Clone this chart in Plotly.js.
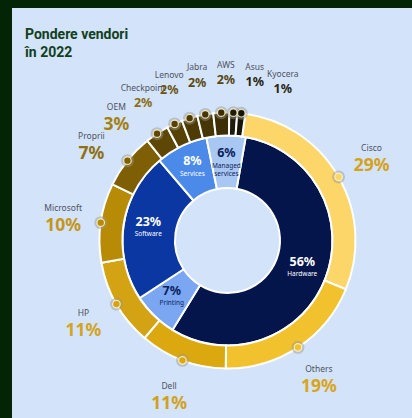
<!DOCTYPE html>
<html><head><meta charset="utf-8">
<script src="https://cdn.plot.ly/plotly-3.0.1.min.js"></script>
<style>html,body{margin:0;padding:0;background:#032506;overflow:hidden}</style>
</head><body><div id="chart" style="width:412px;height:418px"></div>
<script>
// ---- data ----
const titleText = 'Pondere vendori<br>în 2022';
const categories = ['Hardware','Printing','Software','Services','Managed services'];
const categoryValues = [56,7,23,8,6];
const vendors = ['Cisco','Others','Dell','HP','Microsoft','Proprii','OEM','Checkpoint','Lenovo','Jabra','AWS','Asus','Kyocera'];
const vendorValues = [29,19,11,11,10,7,3,2,2,2,2,1,1];

// ---- styles ----
const categoryColors = ['#03154b','#7aa6f2','#0b37a2','#4b8ae9','#a9c7f3'];
const categoryTextColors = ['#ffffff','#0a1f5c','#ffffff','#ffffff','#0a1f5c'];
const vendorColors = ['#fcd668','#f2c22e','#dba90f','#d3a313','#b88b07','#7e5f06','#5e4605','#574205','#4d3a05','#463505','#3d2e06','#1f1a0b','#171309'];
const vendorLabelColors = ['#d4a21a','#d8a51b','#d2a11a','#d4a41c','#c4961a','#8f7012','#a3810f','#8a6d12','#6a5412','#5a4810','#564510','#2a2410','#2a2410'];

const W = 412, H = 418;
const cx = 227.5, cy = 240.5;          // chart centre in px
const RP = 172;                         // polar radius in px (radial units = px)
const rHole = 52.5, rMid = 105, rOuter = 128, labelR = 166, innerLabelR = 80;
const outerRot = 8, innerRot = 10;
const bigLabel = 3, bigGap = 13, smallGap = 10;   // angular room for each label (deg)

function arcs(values, rot) {
  const tot = values.reduce((a, b) => a + b, 0);
  let cum = 0;
  return values.map(v => { const s = cum; cum += v; return {mid: rot + (s + v / 2) / tot * 360, width: v / tot * 360}; });
}
// spread label angles so neighbouring labels keep (w_i + w_j)/2 degrees apart
function spread(angles, widths) {
  const place = idx => {
    const off = [0];
    for (let k = 1; k < idx.length; k++) off.push(off[k - 1] + (widths[idx[k - 1]] + widths[idx[k]]) / 2);
    const start = idx.reduce((s, i, k) => s + angles[i] - off[k], 0) / idx.length;
    return off.map(o => start + o);
  };
  let groups = angles.map((a, i) => ({idx: [i], pos: [a]}));
  let changed = true;
  while (changed) {
    changed = false;
    for (let g = 0; g < groups.length - 1; g++) {
      const A = groups[g], B = groups[g + 1];
      const ia = A.idx[A.idx.length - 1], ib = B.idx[0];
      if (B.pos[0] - A.pos[A.pos.length - 1] < (widths[ia] + widths[ib]) / 2) {
        const idx = A.idx.concat(B.idx);
        groups.splice(g, 2, {idx, pos: place(idx)}); changed = true; break;
      }
    }
  }
  const out = [];
  groups.forEach(G => G.idx.forEach((i, k) => out[i] = G.pos[k]));
  return out;
}

const outerArcs = arcs(vendorValues, outerRot);
const innerArcs = arcs(categoryValues, innerRot);
const labelAngles = spread(outerArcs.map(a => a.mid), vendorValues.map(v => v >= bigLabel ? bigGap : smallGap));
const fill = (n, v) => new Array(n).fill(v);
const nV = vendors.length, nC = categories.length;
const FONT = 'Noto Sans, Open Sans, sans-serif';

const traces = [
  {type: 'barpolar', theta: innerArcs.map(a => a.mid), width: innerArcs.map(a => a.width),
   base: fill(nC, rHole), r: fill(nC, rMid - rHole),
   marker: {color: categoryColors, line: {color: '#ffffff', width: 2}}, hoverinfo: 'skip'},
  {type: 'barpolar', theta: outerArcs.map(a => a.mid), width: outerArcs.map(a => a.width),
   base: fill(nV, rMid), r: fill(nV, rOuter - rMid),
   marker: {color: vendorColors, line: {color: '#ffffff', width: 2}}, hoverinfo: 'skip'},
  {type: 'scatterpolar', mode: 'markers', r: fill(nV, rOuter), theta: outerArcs.map(a => a.mid),
   marker: {size: 13, color: 'rgba(150,150,140,0.45)'}, hoverinfo: 'skip', cliponaxis: false},
  {type: 'scatterpolar', mode: 'markers', r: fill(nV, rOuter), theta: outerArcs.map(a => a.mid),
   marker: {size: 7.5, color: vendorColors, line: {color: 'rgba(255,245,205,0.85)', width: 1.2}}, hoverinfo: 'skip', cliponaxis: false},
  {type: 'scatterpolar', mode: 'markers+text', r: fill(nV, labelR), theta: labelAngles, marker: {size: 6, opacity: 0},
   text: vendors, textposition: 'top center', cliponaxis: false,
   textfont: {family: FONT, size: 8.5, color: '#4f5260'}, hoverinfo: 'skip'},
  {type: 'scatterpolar', mode: 'text', r: fill(nV, labelR), theta: labelAngles,
   text: vendorValues.map(v => '<b>' + v + '%</b>'), textposition: 'bottom center', cliponaxis: false,
   textfont: {family: FONT, size: vendorValues.map(v => v >= bigLabel ? 17.5 : 12.5), color: vendorLabelColors}, hoverinfo: 'skip'},
  {type: 'scatterpolar', mode: 'text', r: fill(nC, innerLabelR), theta: innerArcs.map(a => a.mid),
   text: categoryValues.map(v => '<b>' + v + '%</b>'), textposition: 'top center', cliponaxis: false,
   textfont: {family: FONT, size: 12.5, color: categoryTextColors}, hoverinfo: 'skip'},
  {type: 'scatterpolar', mode: 'markers+text', r: fill(nC, innerLabelR), theta: innerArcs.map(a => a.mid), marker: {size: 2, opacity: 0},
   text: categories.map(c => c.length > 10 ? c.replace(' ', '<br>') : c), textposition: 'bottom center', cliponaxis: false,
   textfont: {family: FONT, size: 6.5, color: categoryTextColors}, hoverinfo: 'skip'}
];

const layout = {
  width: W, height: H, margin: {l: 0, r: 0, t: 0, b: 0},
  paper_bgcolor: '#032506', showlegend: false,
  title: {text: titleText, x: 25 / W, xanchor: 'left', xref: 'paper', y: 1 - 39 / H, yanchor: 'top',
          font: {family: 'Roboto, Noto Sans, sans-serif', size: 14, color: '#12401c', weight: 700}},
  shapes: [{type: 'rect', xref: 'paper', yref: 'paper', x0: 12 / W, x1: 1, y0: 0, y1: 1 - 8 / H,
            fillcolor: '#d3e3fa', line: {width: 0}, layer: 'below'}],
  polar: {
    domain: {x: [(cx - RP) / W, (cx + RP) / W], y: [1 - (cy + RP) / H, 1 - (cy - RP) / H]},
    bgcolor: 'rgba(0,0,0,0)',
    radialaxis: {range: [0, RP], visible: false, showgrid: false, showline: false, showticklabels: false, ticks: ''},
    angularaxis: {rotation: 90, direction: 'clockwise', visible: false, showgrid: false, showline: false, showticklabels: false, ticks: ''}
  }
};
Plotly.newPlot('chart', traces, layout, {staticPlot: true, displayModeBar: false});
</script>
</body></html>
